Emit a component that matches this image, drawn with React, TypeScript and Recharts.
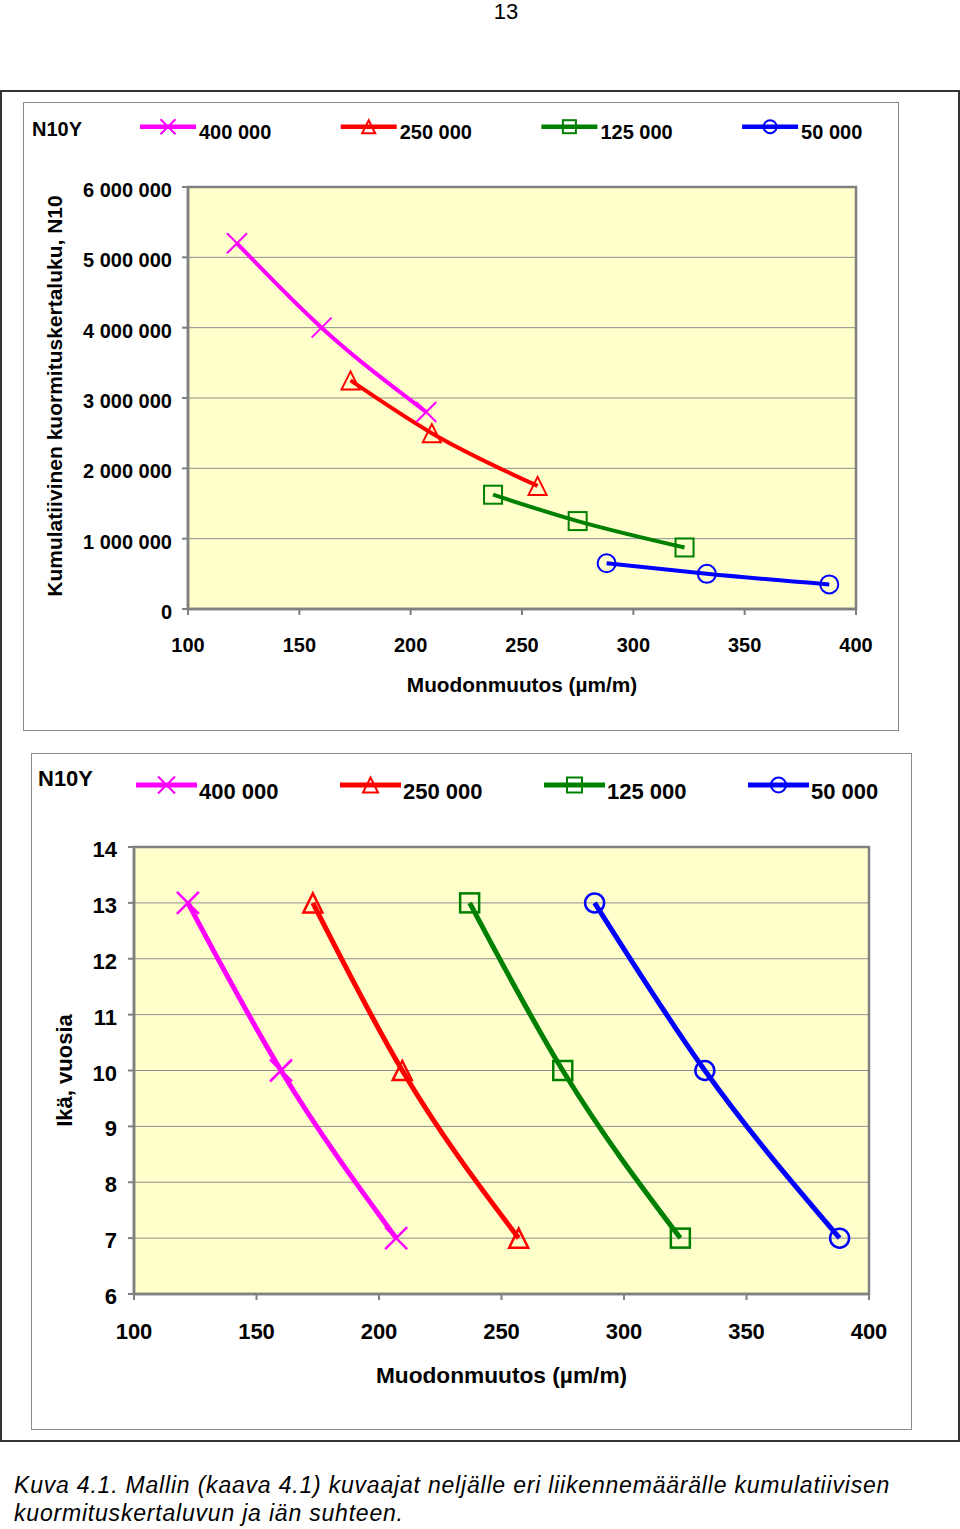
import React from 'react';
import { LineChart, Line, XAxis, YAxis, CartesianGrid, ReferenceArea, Legend, Label } from 'recharts';

// ---------- data ----------
const seriesNames = ['400 000', '250 000', '125 000', '50 000'];
const seriesColors = ['#FF00FF', '#FF0000', '#008000', '#0000FF'];
const seriesShapes = ['cross', 'triangle', 'square', 'circle'];

// strain (µm/m) at ages 13, 10, 7 years
const strain400 = [122, 160, 207];
const strain250 = [173, 209.5, 257];
const strain125 = [237, 275, 323];
const strain50 = [288, 333, 388];

const ages = [13, 10, 7];

// cumulative load repetitions N10
const cumN400 = [5200000, 4000000, 2800000];
const cumN250 = [3250000, 2500000, 1750000];
const cumN125 = [1625000, 1250000, 875000];
const cumN50 = [650000, 500000, 350000];

const xTicks = [100, 150, 200, 250, 300, 350, 400];
const yTicksN = [0, 1000000, 2000000, 3000000, 4000000, 5000000, 6000000];
const yTicksAge = [6, 7, 8, 9, 10, 11, 12, 13, 14];

const strains = [strain400, strain250, strain125, strain50];
const cumN = [cumN400, cumN250, cumN125, cumN50];
const chart1Series = strains.map((s, i) => s.map((x, j) => ({ x, y: cumN[i][j] })));
const chart2Series = strains.map((s) => s.map((x, j) => ({ x, y: ages[j] })));

// ---------- styling ----------
const FONT = '"Liberation Sans", Arial, Helvetica, sans-serif';
const GRAY = '#808080';
const PLOT_BG = '#FFFFCC';

const fmtSpace = (v: number) => String(v).replace(/\B(?=(\d{3})+(?!\d))/g, ' ');

function Marker({ shape, cx, cy, r, cr, color, sw }: any) {
  if (shape === 'cross') {
    return (
      <path
        d={`M${cx - cr},${cy - cr}L${cx + cr},${cy + cr}M${cx - cr},${cy + cr}L${cx + cr},${cy - cr}`}
        stroke={color}
        strokeWidth={sw}
        fill="none"
      />
    );
  }
  if (shape === 'triangle') {
    return (
      <polygon
        points={`${cx},${cy - r} ${cx + r},${cy + r} ${cx - r},${cy + r}`}
        stroke={color}
        strokeWidth={sw}
        fill="none"
        strokeLinejoin="miter"
      />
    );
  }
  if (shape === 'square') {
    return <rect x={cx - r} y={cy - r} width={2 * r} height={2 * r} stroke={color} strokeWidth={sw} fill="none" />;
  }
  return <circle cx={cx} cy={cy} r={r} stroke={color} strokeWidth={sw} fill="none" />;
}

function makeDot(shape: string, color: string, r: number, cr: number, sw: number) {
  return (props: any) => {
    const { cx, cy, index } = props;
    if (cx == null || cy == null) return <g key={`e-${index}`} />;
    return <Marker key={`${shape}-${index}`} shape={shape} cx={cx} cy={cy} r={r} cr={cr} color={color} sw={sw} />;
  };
}

function makeLegend(cfg: any) {
  return (props: any) => {
    const payload = [...(props.payload || [])].sort(
      (a: any, b: any) => seriesNames.indexOf(a.value) - seriesNames.indexOf(b.value)
    );
    return (
      <svg width={cfg.width} height={cfg.height} style={{ display: 'block', overflow: 'visible' }}>
        <text x={cfg.titleX} y={cfg.titleY} fontFamily={FONT} fontWeight="bold" fontSize={cfg.fontSize} fill="#000">
          N10Y
        </text>
        {payload.map((entry: any, i: number) => {
          const idx = Math.max(0, seriesNames.indexOf(entry.value));
          const x = cfg.x0 + i * cfg.spacing;
          const color = entry.color || seriesColors[idx];
          const mx = x + cfg.lineLen / 2;
          return (
            <g key={`leg-${i}`}>
              <line x1={x} x2={x + cfg.lineLen} y1={cfg.lineY} y2={cfg.lineY} stroke={color} strokeWidth={cfg.lineW} />
              <Marker shape={seriesShapes[idx]} cx={mx} cy={cfg.lineY} r={cfg.mr} cr={cfg.mcr} color={color} sw={2} />
              <text
                x={x + cfg.labelDx}
                y={cfg.labelY}
                fontFamily={FONT}
                fontWeight="bold"
                fontSize={cfg.fontSize}
                fill="#000"
              >
                {entry.value}
              </text>
            </g>
          );
        })}
      </svg>
    );
  };
}

function makeYTick(fontSize: number, dx: number, dy: number, fmt: (v: number) => string) {
  return (props: any) => {
    const { x, y, payload } = props;
    return (
      <text x={x - dx} y={y + dy} textAnchor="end" fontFamily={FONT} fontWeight="bold" fontSize={fontSize} fill="#000">
        {fmt(payload.value)}
      </text>
    );
  };
}

function makeXTick(fontSize: number, dy: number) {
  return (props: any) => {
    const { x, y, payload } = props;
    return (
      <text x={x} y={y + dy} textAnchor="middle" fontFamily={FONT} fontWeight="bold" fontSize={fontSize} fill="#000">
        {payload.value}
      </text>
    );
  };
}

// ---------- chart 1 ----------
const C1 = { left: 23, top: 102, width: 876, height: 629, mTop: 85, mRight: 43, yW: 165, xH: 122 };
const legend1 = makeLegend({
  width: 876, height: 60, titleX: 9, titleY: 34, fontSize: 20,
  x0: 117, spacing: 200.7, lineLen: 56, lineY: 24.7, lineW: 4.5, labelDx: 59, labelY: 37, mr: 6.5, mcr: 7.5,
});

function Chart1() {
  return (
    <LineChart
      width={C1.width}
      height={C1.height}
      margin={{ top: C1.mTop, right: C1.mRight, bottom: 0, left: 0 }}
    >
      <CartesianGrid vertical={false} stroke="#8f8f8f" strokeWidth={1} fill={PLOT_BG} fillOpacity={1} />
      <XAxis
        type="number"
        dataKey="x"
        domain={[100, 400]}
        ticks={xTicks}
        interval={0}
        height={C1.xH}
        tickSize={6}
        tickMargin={0}
        axisLine={{ stroke: GRAY, strokeWidth: 2.5 }}
        tickLine={{ stroke: GRAY, strokeWidth: 2 }}
        tick={makeXTick(20, 37)}
        allowDataOverflow
      >
        <Label
          content={(p: any) => {
            const vb = p.viewBox || { x: C1.yW, y: C1.height - C1.xH, width: C1.width - C1.yW - C1.mRight, height: C1.xH };
            return (
              <text x={vb.x + vb.width / 2} y={vb.y + 83} textAnchor="middle" fontFamily={FONT} fontWeight="bold" fontSize={20.8} fill="#000">
                Muodonmuutos (µm/m)
              </text>
            );
          }}
        />
      </XAxis>
      <YAxis
        type="number"
        dataKey="y"
        domain={[0, 6000000]}
        ticks={yTicksN}
        interval={0}
        width={C1.yW}
        tickSize={6}
        tickMargin={0}
        axisLine={{ stroke: GRAY, strokeWidth: 2.5 }}
        tickLine={{ stroke: GRAY, strokeWidth: 2 }}
        tick={makeYTick(20, 10, 10, fmtSpace)}
        allowDataOverflow
      >
        <Label
          content={(p: any) => {
            const vb = p.viewBox || { x: 0, y: C1.mTop, width: C1.yW, height: C1.height - C1.mTop - C1.xH };
            const x = vb.x + 39;
            const y = vb.y + vb.height / 2 - 2;
            return (
              <text x={x} y={y} transform={`rotate(-90, ${x}, ${y})`} textAnchor="middle" fontFamily={FONT} fontWeight="bold" fontSize={21} fill="#000">
                Kumulatiivinen kuormituskertaluku, N10
              </text>
            );
          }}
        />
      </YAxis>
      <ReferenceArea x1={100} x2={400} y1={0} y2={6000000} fill="none" stroke={GRAY} strokeWidth={2.5} />
      <Legend layout="vertical" align="center" verticalAlign="middle" content={legend1} wrapperStyle={{ top: 0, left: 0, width: 876, height: 60 }} />
      {chart1Series.map((d, i) => (
        <Line
          key={seriesNames[i]}
          data={d}
          dataKey="y"
          name={seriesNames[i]}
          type="monotone"
          stroke={seriesColors[i]}
          strokeWidth={4}
          dot={makeDot(seriesShapes[i], seriesColors[i], 9, 10, 2)}
          activeDot={false}
          isAnimationActive={false}
        />
      ))}
    </LineChart>
  );
}

// ---------- chart 2 ----------
const C2 = { left: 31, top: 753, width: 881, height: 677, mTop: 94, mRight: 43, yW: 103, xH: 136 };
const legend2 = makeLegend({
  width: 881, height: 60, titleX: 7, titleY: 33, fontSize: 22,
  x0: 105, spacing: 204, lineLen: 61, lineY: 32, lineW: 5, labelDx: 63, labelY: 46, mr: 7.5, mcr: 8.5,
});

function Chart2() {
  return (
    <LineChart
      width={C2.width}
      height={C2.height}
      margin={{ top: C2.mTop, right: C2.mRight, bottom: 0, left: 0 }}
    >
      <CartesianGrid vertical={false} stroke="#8f8f8f" strokeWidth={1} fill={PLOT_BG} fillOpacity={1} />
      <XAxis
        type="number"
        dataKey="x"
        domain={[100, 400]}
        ticks={xTicks}
        interval={0}
        height={C2.xH}
        tickSize={6}
        tickMargin={0}
        axisLine={{ stroke: GRAY, strokeWidth: 2.5 }}
        tickLine={{ stroke: GRAY, strokeWidth: 2 }}
        tick={makeXTick(22, 39)}
        allowDataOverflow
      >
        <Label
          content={(p: any) => {
            const vb = p.viewBox || { x: C2.yW, y: C2.height - C2.xH, width: C2.width - C2.yW - C2.mRight, height: C2.xH };
            return (
              <text x={vb.x + vb.width / 2} y={vb.y + 89} textAnchor="middle" fontFamily={FONT} fontWeight="bold" fontSize={22.7} fill="#000">
                Muodonmuutos (µm/m)
              </text>
            );
          }}
        />
      </XAxis>
      <YAxis
        type="number"
        dataKey="y"
        domain={[6, 14]}
        ticks={yTicksAge}
        interval={0}
        width={C2.yW}
        tickSize={6}
        tickMargin={0}
        axisLine={{ stroke: GRAY, strokeWidth: 2.5 }}
        tickLine={{ stroke: GRAY, strokeWidth: 2 }}
        tick={makeYTick(22, 11, 10, (v) => String(v))}
        allowDataOverflow
      >
        <Label
          content={(p: any) => {
            const vb = p.viewBox || { x: 0, y: C2.mTop, width: C2.yW, height: C2.height - C2.mTop - C2.xH };
            const x = vb.x + 41;
            const y = vb.y + vb.height / 2;
            return (
              <text x={x} y={y} transform={`rotate(-90, ${x}, ${y})`} textAnchor="middle" fontFamily={FONT} fontWeight="bold" fontSize={22} fill="#000">
                Ikä, vuosia
              </text>
            );
          }}
        />
      </YAxis>
      <ReferenceArea x1={100} x2={400} y1={6} y2={14} fill="none" stroke={GRAY} strokeWidth={2.5} />
      <Legend layout="vertical" align="center" verticalAlign="middle" content={legend2} wrapperStyle={{ top: 0, left: 0, width: 881, height: 60 }} />
      {chart2Series.map((d, i) => (
        <Line
          key={seriesNames[i]}
          data={d}
          dataKey="y"
          name={seriesNames[i]}
          type="monotone"
          stroke={seriesColors[i]}
          strokeWidth={5}
          dot={makeDot(seriesShapes[i], seriesColors[i], 9.5, 11, 2.5)}
          activeDot={false}
          isAnimationActive={false}
        />
      ))}
    </LineChart>
  );
}

export default function App() {
  return (
    <div style={{ position: 'absolute', left: 0, top: 0, width: 960, height: 1529, background: '#fff', fontFamily: FONT, overflow: 'hidden' }}>
      <div style={{ position: 'absolute', left: 456, top: 1, width: 100, textAlign: 'center', fontSize: 22, lineHeight: '21px', color: '#000' }}>
        13
      </div>
      <div style={{ position: 'absolute', left: 0, top: 90, width: 960, height: 1352, boxSizing: 'border-box', border: '2px solid #333' }} />
      <div style={{ position: 'absolute', left: C1.left, top: C1.top, width: C1.width, height: C1.height, boxSizing: 'border-box', border: '1.5px solid #8a8a8a' }} />
      <div style={{ position: 'absolute', left: C2.left, top: C2.top, width: C2.width, height: C2.height, boxSizing: 'border-box', border: '1.5px solid #8a8a8a' }} />
      <div style={{ position: 'absolute', left: C1.left, top: C1.top, width: C1.width, height: C1.height }}>
        <Chart1 />
      </div>
      <div style={{ position: 'absolute', left: C2.left, top: C2.top, width: C2.width, height: C2.height }}>
        <Chart2 />
      </div>
      <div style={{ position: 'absolute', left: 14, top: 1471, fontSize: 23, letterSpacing: '0.8px', lineHeight: '28px', fontStyle: 'italic', whiteSpace: 'nowrap', color: '#000' }}>
        Kuva 4.1. Mallin (kaava 4.1) kuvaajat neljälle eri liikennemäärälle kumulatiivisen
        <br />
        kuormituskertaluvun ja iän suhteen.
      </div>
    </div>
  );
}
